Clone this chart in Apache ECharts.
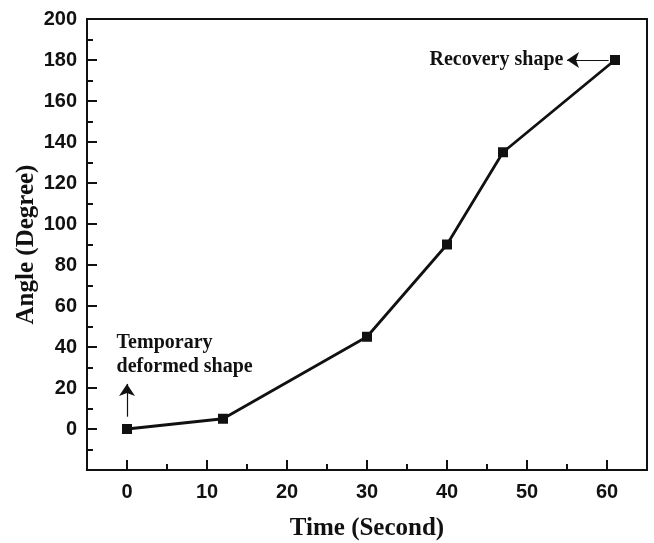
<!DOCTYPE html>
<html>
<head>
<meta charset="utf-8">
<script src="https://cdn.jsdelivr.net/npm/echarts@6/dist/echarts.min.js"></script>
<style>
  html, body { margin: 0; padding: 0; background: #fff; }
  #chart { width: 654px; height: 543px; }
</style>
</head>
<body>
<div id="chart"></div>
<script>
// Bending angle recovered over time
const timeSec = [0, 12, 30, 40, 47, 61];
const angleDeg = [0, 5, 45, 90, 135, 180];
const xTickValues = [0, 10, 20, 30, 40, 50, 60];
const xMinorValues = [5, 15, 25, 35, 45, 55];
const yTickLabels = ['0', '20', '40', '60', '80', '100', '120', '140', '160', '180', '200'];

const sans = 'Liberation Sans, Arial, sans-serif';
const serif = 'Liberation Serif, Times New Roman, serif';
const ink = '#111';

const chart = echarts.init(document.getElementById('chart'));

const points = timeSec.map((t, i) => [t, angleDeg[i]]);

chart.setOption({
  animation: false,
  backgroundColor: '#fff',
  grid: {
    left: 87, right: 7, top: 19, bottom: 73,
    outerBoundsMode: 'none',
    show: true, borderColor: ink, borderWidth: 2, backgroundColor: 'transparent'
  },
  xAxis: [
    {
      type: 'value', min: -5, max: 65,
      name: 'Time (Second)', nameLocation: 'middle', nameGap: 46, nameMoveOverlap: false,
      nameTextStyle: { fontFamily: serif, fontWeight: 'bold', fontSize: 25, color: ink },
      axisLine: { show: true, onZero: false, lineStyle: { color: ink, width: 2 } },
      axisTick: { show: true, inside: true, length: 10, lineStyle: { color: ink, width: 2 }, customValues: xTickValues },
      axisLabel: {
        customValues: xTickValues, margin: 12,
        fontFamily: sans, fontWeight: 'bold', fontSize: 20, color: ink
      },
      splitLine: { show: false }
    },
    {
      type: 'value', min: -5, max: 65, position: 'bottom',
      axisLine: { show: false, onZero: false },
      axisTick: { show: true, inside: true, length: 6, lineStyle: { color: ink, width: 2 }, customValues: xMinorValues },
      axisLabel: { show: false, customValues: xMinorValues },
      splitLine: { show: false }
    }
  ],
  yAxis: {
    type: 'value', min: -20, max: 200, interval: 20,
    name: 'Angle (Degree)', nameLocation: 'middle', nameGap: 48, nameMoveOverlap: false,
    nameTextStyle: { fontFamily: serif, fontWeight: 'bold', fontSize: 25, color: ink },
    axisLine: { show: true, onZero: false, lineStyle: { color: ink, width: 2 } },
    axisTick: { show: true, inside: true, length: 10, lineStyle: { color: ink, width: 2 } },
    minorTick: { show: true, splitNumber: 2, length: 6, lineStyle: { color: ink, width: 2 } },
    axisLabel: {
      margin: 10, fontFamily: sans, fontWeight: 'bold', fontSize: 20, color: ink,
      formatter: v => (yTickLabels.includes(String(v)) ? String(v) : '')
    },
    splitLine: { show: false }
  },
  series: [
    {
      type: 'line',
      data: points,
      symbol: 'rect', symbolSize: 10,
      itemStyle: { color: ink },
      lineStyle: { color: ink, width: 2.8 },
      markLine: {
        silent: true,
        symbol: ['none', 'arrow'],
        symbolSize: 12,
        lineStyle: { color: ink, width: 1.2, type: 'solid' },
        label: { show: false },
        data: [
          [{ coord: [60.2, 180] }, { coord: [55, 180] }],
          [{ coord: [0, 6] }, { coord: [0, 22] }]
        ]
      },
      markPoint: {
        silent: true,
        symbol: 'circle', symbolSize: 0,
        data: [
          {
            coord: [54.8, 180],
            label: {
              show: true, position: 'left', distance: 2,
              formatter: 'Recovery shape',
              fontFamily: serif, fontWeight: 'bold', fontSize: 20, color: ink
            }
          },
          {
            coord: [-1.3, 36],
            label: {
              show: true, position: 'right', distance: 0, align: 'left',
              formatter: 'Temporary\ndeformed shape', lineHeight: 24,
              fontFamily: serif, fontWeight: 'bold', fontSize: 20, color: ink
            }
          }
        ]
      }
    }
  ]
});
</script>
</body>
</html>
